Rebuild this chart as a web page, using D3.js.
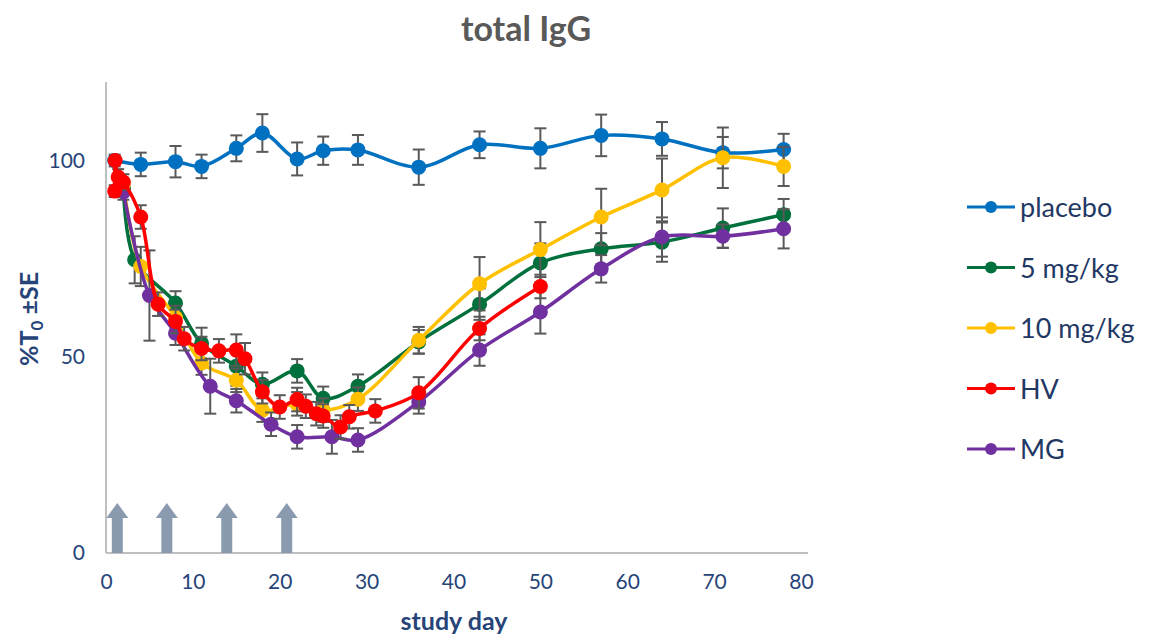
<!DOCTYPE html>
<html>
<head>
<meta charset="utf-8">
<script src="https://cdn.jsdelivr.net/npm/d3@7.9.0/dist/d3.min.js"></script>
<style>
  body { margin: 0; background: #fff; }
  svg { font-family: Lato, "Noto Sans", sans-serif; }
</style>
</head>
<body>
<svg id="chart" width="1154" height="637"></svg>
<script>
// series data (study day, %T0, SE)
const seriesNames = ['placebo', '5 mg/kg', '10 mg/kg', 'HV', 'MG'];
const seriesColors = ['#0070c0', '#00703c', '#ffc000', '#ff0000', '#7030a0'];
// order in which the series are painted (HV ends up on top)
const drawOrder = [0, 1, 2, 4, 3];

const placeboDays = [1, 4, 8, 11, 15, 18, 22, 25, 29, 36, 43, 50, 57, 64, 71, 78];
const placeboValues = [100, 99.0, 99.7, 98.5, 103.1, 107.0, 100.4, 102.5, 102.7, 98.3, 104.0, 103.1, 106.4, 105.5, 102.0, 102.8];
const placeboSE = [1.5, 3, 4, 3, 3.3, 4.8, 4.2, 3.6, 3.8, 4.5, 3.4, 5.1, 5.3, 4.3, 4, 4];

const mg5Days = [2, 3.3, 8, 11, 15, 18, 22, 25, 29, 36, 43, 50, 57, 64, 71, 78];
const mg5Values = [93, 74.7, 63.7, 53.4, 47.6, 43, 46.4, 39.4, 42.5, 53.8, 63.4, 73.9, 77.5, 79.2, 82.8, 86.2];
const mg5SE = [0, 6, 3, 4, 5, 3, 3, 3, 3, 3, 4, 5, 4, 5, 5, 4];

const mg10Days = [2, 4, 8, 11, 15, 18, 22, 25, 29, 36, 43, 50, 57, 64, 71, 78];
const mg10Values = [94, 73, 60, 48.4, 44, 36.4, 38, 36.4, 39.2, 54.2, 68.6, 77.3, 85.6, 92.5, 100.7, 98.5];
const mg10SE = [0, 5, 3, 3, 3, 3, 3, 3, 3, 3.4, 6.8, 7, 7.2, 8, 7.7, 5];

const hvDays = [1, 1.05, 1.4, 2, 4, 6, 8, 9, 11, 13, 15, 16, 18, 20, 22, 23, 24.2, 25, 27, 28, 31, 36, 43, 50];
const hvValues = [92.2, 100, 95.8, 94.5, 85.6, 63.4, 59, 54.6, 52.1, 51.5, 51.7, 49.5, 41.1, 37.2, 39.1, 37.4, 35.5, 34.9, 32.1, 34.7, 36.2, 40.8, 57.2, 67.9];
const hvSE = [1.5, 0, 2, 2, 3, 3, 3, 3, 3, 3, 4, 4, 3, 3, 3, 3, 3, 3, 3, 3, 3, 4, 3, 3];

const mgDays = [2, 5, 8, 12, 15, 19, 22, 26, 29, 36, 43, 50, 57, 64, 71, 78];
const mgValues = [92, 65.6, 56, 42.5, 38.8, 32.8, 29.6, 29.6, 28.8, 38.5, 51.7, 61.4, 72.4, 80.5, 80.7, 82.6];
const mgSE = [2, 11.5, 3, 7, 3, 3, 3, 4.3, 3, 3, 4, 5.5, 3.5, 5, 3, 5];

const doseDays = [1.3, 7, 13.9, 20.8];
const xTicks = [0, 10, 20, 30, 40, 50, 60, 70, 80];
const yTicks = [0, 50, 100];

const allDays = [placeboDays, mg5Days, mg10Days, hvDays, mgDays];
const allValues = [placeboValues, mg5Values, mg10Values, hvValues, mgValues];
const allSE = [placeboSE, mg5SE, mg10SE, hvSE, mgSE];

const series = seriesNames.map((name, i) => ({
  name: name,
  color: seriesColors[i],
  points: allDays[i].map((d, j) => ({ day: d, value: allValues[i][j], se: allSE[i][j] }))
}));

const svg = d3.select('#chart');
const plotLeft = 106, plotRight = 801, plotTop = 82, plotBottom = 553;

const x = d3.scaleLinear().domain([0, 80]).range([plotLeft, plotRight]);
const y = d3.scaleLinear().domain([0, 120]).range([plotBottom, plotTop]);

const textColor = '#264478';

// title
svg.append('text')
  .attr('x', 526).attr('y', 41)
  .attr('text-anchor', 'middle')
  .attr('font-size', 34).attr('font-weight', 'bold')
  .attr('fill', '#595959')
  .text('total IgG');

// axis lines
svg.append('line')
  .attr('x1', plotLeft).attr('x2', plotLeft).attr('y1', plotTop).attr('y2', plotBottom)
  .attr('stroke', '#bfbfbf').attr('stroke-width', 2);
svg.append('line')
  .attr('x1', plotLeft).attr('x2', 808).attr('y1', plotBottom).attr('y2', plotBottom)
  .attr('stroke', '#bfbfbf').attr('stroke-width', 2);

// tick labels via d3 axes, no tick marks or domain
const xAxis = svg.append('g')
  .attr('transform', `translate(0,${plotBottom})`)
  .call(d3.axisBottom(x).tickValues(xTicks).tickSize(0).tickPadding(21));
const yAxis = svg.append('g')
  .attr('transform', `translate(${plotLeft},0)`)
  .call(d3.axisLeft(y).tickValues(yTicks).tickSize(0).tickPadding(21));
[xAxis, yAxis].forEach(g => {
  g.select('.domain').remove();
  g.selectAll('text')
    .attr('font-family', 'Lato, "Noto Sans", sans-serif')
    .attr('font-size', 21)
    .attr('fill', textColor);
});

// axis titles
svg.append('text')
  .attr('x', 454).attr('y', 630)
  .attr('text-anchor', 'middle')
  .attr('font-size', 25).attr('font-weight', 'bold')
  .attr('fill', textColor)
  .text('study day');

const yTitle = svg.append('text')
  .attr('transform', 'translate(38,319) rotate(-90)')
  .attr('text-anchor', 'middle')
  .attr('font-size', 25).attr('font-weight', 'bold')
  .attr('fill', textColor);
yTitle.append('tspan').text('%T');
yTitle.append('tspan').attr('font-size', 17).attr('dy', 5).text('0');
yTitle.append('tspan').attr('dy', -5).text(' \u00b1SE');

// dose arrows
const arrowColor = '#8a9bb0';
doseDays.forEach(d => {
  const cx = x(d);
  const tip = 503, base = 518;
  svg.append('path')
    .attr('d', `M${cx - 5.5},${plotBottom} L${cx - 5.5},${base} L${cx - 11},${base} L${cx},${tip} L${cx + 11},${base} L${cx + 5.5},${base} L${cx + 5.5},${plotBottom} Z`)
    .attr('fill', arrowColor);
});

// series: error bars, smoothed line, markers
const line = d3.line()
  .x(d => x(d.day))
  .y(d => y(d.value))
  .curve(d3.curveCatmullRom.alpha(0.5));

drawOrder.forEach(i => {
  const s = series[i];
  const g = svg.append('g');
  s.points.filter(p => p.se > 0).forEach(p => {
    const px = x(p.day);
    const y1 = y(p.value + p.se), y2 = y(p.value - p.se);
    g.append('line').attr('x1', px).attr('x2', px).attr('y1', y1).attr('y2', y2)
      .attr('stroke', '#595959').attr('stroke-width', 2);
    [y1, y2].forEach(yy => {
      g.append('line').attr('x1', px - 6).attr('x2', px + 6).attr('y1', yy).attr('y2', yy)
        .attr('stroke', '#595959').attr('stroke-width', 2);
    });
  });
  g.append('path')
    .datum(s.points)
    .attr('d', line)
    .attr('fill', 'none')
    .attr('stroke', s.color)
    .attr('stroke-width', 3.5);
  g.selectAll('circle')
    .data(s.points)
    .join('circle')
    .attr('cx', d => x(d.day))
    .attr('cy', d => y(d.value))
    .attr('r', 7.5)
    .attr('fill', s.color);
});

// legend
const legend = svg.append('g');
series.forEach((s, i) => {
  const ly = 207 + i * 60.5;
  legend.append('line')
    .attr('x1', 967).attr('x2', 1015).attr('y1', ly).attr('y2', ly)
    .attr('stroke', s.color).attr('stroke-width', 3);
  legend.append('circle')
    .attr('cx', 991).attr('cy', ly).attr('r', 6)
    .attr('fill', s.color);
  legend.append('text')
    .attr('x', 1020).attr('y', ly + 10)
    .attr('font-size', 27)
    .attr('fill', '#1f3864')
    .text(s.name);
});
</script>
</body>
</html>
